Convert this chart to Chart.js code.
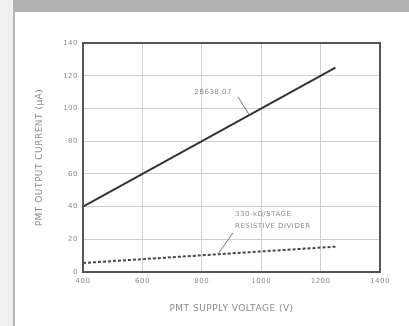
<!DOCTYPE html>
<html>
<head>
<meta charset="utf-8">
<script src="https://cdn.jsdelivr.net/npm/chart.js@4/dist/chart.umd.min.js"></script>
<style>
  html, body { margin: 0; padding: 0; background: #fff; }
  #wrap { width: 409px; height: 326px; }
</style>
</head>
<body>
<div id="wrap"><canvas id="chart" width="409" height="326"></canvas></div>
<script>
// supply voltage (V) at the ends of each measured line
const voltages = [400, 1250];
const pmtCurrent = [40, 125];       // solid line, uA
const dividerCurrent = [5.5, 15.5]; // dashed line, uA

const xTicks = [400, 600, 800, 1000, 1200, 1400];
const yTicks = [0, 20, 40, 60, 80, 100, 120, 140];

const pmtLabel = '2B638.07';
const dividerLabel = ['330-kΩ/STAGE', 'RESISTIVE DIVIDER'];

const textColor = '#8c8c8c';
const font = '"DejaVu Sans", Arial, sans-serif';

// page frame: grey band on top, pale strip with a rule on the left
const framePlugin = {
  id: 'frame',
  beforeDraw(chart) {
    const { ctx } = chart;
    ctx.save();
    ctx.fillStyle = '#fff';
    ctx.fillRect(0, 0, 409, 326);
    ctx.fillStyle = '#eef0f3';
    ctx.fillRect(0, 0, 13, 326);
    ctx.fillStyle = '#b3b3b3';
    ctx.fillRect(13, 0, 396, 12);
    ctx.fillStyle = '#b8b8b8';
    ctx.fillRect(13, 12, 2, 314);
    ctx.restore();
    ctx.letterSpacing = '0.5px';
  },
};

// call-out labels with leader lines, placed in data coordinates
const calloutPlugin = {
  id: 'callouts',
  afterDatasetsDraw(chart) {
    const { ctx, scales: { x, y } } = chart;
    ctx.save();
    ctx.fillStyle = textColor;
    ctx.strokeStyle = '#777';
    ctx.lineWidth = 1;
    ctx.font = `7px ${font}`;
    ctx.textBaseline = 'middle';

    ctx.textAlign = 'center';
    ctx.fillText(pmtLabel, x.getPixelForValue(838), y.getPixelForValue(110));
    ctx.beginPath();
    ctx.moveTo(x.getPixelForValue(922), y.getPixelForValue(107));
    ctx.lineTo(x.getPixelForValue(960), y.getPixelForValue(96));
    ctx.stroke();

    ctx.textAlign = 'left';
    ctx.fillText(dividerLabel[0], x.getPixelForValue(912), y.getPixelForValue(35.5));
    ctx.fillText(dividerLabel[1], x.getPixelForValue(912), y.getPixelForValue(28));
    ctx.beginPath();
    ctx.moveTo(x.getPixelForValue(905), y.getPixelForValue(24));
    ctx.lineTo(x.getPixelForValue(855), y.getPixelForValue(11));
    ctx.stroke();
    ctx.restore();
  },
};

new Chart(document.getElementById('chart').getContext('2d'), {
  type: 'line',
  data: {
    datasets: [
      {
        label: pmtLabel,
        data: voltages.map((v, i) => ({ x: v, y: pmtCurrent[i] })),
        borderColor: '#333',
        borderWidth: 2,
        pointRadius: 0,
        tension: 0,
      },
      {
        label: dividerLabel.join(' '),
        data: voltages.map((v, i) => ({ x: v, y: dividerCurrent[i] })),
        borderColor: '#444',
        borderWidth: 2,
        borderDash: [3, 2],
        pointRadius: 0,
        tension: 0,
      },
    ],
  },
  options: {
    responsive: false,
    animation: false,
    devicePixelRatio: 1,
    layout: { padding: { left: 30, top: 43, right: 29, bottom: 10 } },
    plugins: {
      legend: { display: false },
      tooltip: { enabled: false },
    },
    scales: {
      x: {
        type: 'linear',
        min: 400,
        max: 1400,
        afterBuildTicks(scale) { scale.ticks = xTicks.map(v => ({ value: v })); },
        afterFit(scale) { scale.height = 44; },
        grid: { color: '#cfcfcf', lineWidth: 1, drawTicks: false },
        border: { color: '#555', width: 2 },
        ticks: {
          color: textColor,
          font: { size: 7, family: font },
          padding: 5,
          callback: v => String(v),
        },
        title: {
          display: true,
          text: 'PMT SUPPLY VOLTAGE (V)',
          color: textColor,
          font: { size: 9, family: font },
          padding: { top: 0, bottom: 2 },
        },
      },
      y: {
        type: 'linear',
        min: 0,
        max: 140,
        afterBuildTicks(scale) { scale.ticks = yTicks.map(v => ({ value: v })); },
        afterFit(scale) { scale.width = 53; },
        grid: { color: '#cfcfcf', lineWidth: 1, drawTicks: false },
        border: { color: '#555', width: 2 },
        ticks: {
          color: textColor,
          font: { size: 7, family: font },
          padding: 5,
          callback: v => String(v),
        },
        title: {
          display: true,
          text: 'PMT OUTPUT CURRENT (μA)',
          color: textColor,
          font: { size: 9, family: font },
          padding: { top: 4, bottom: 0 },
        },
      },
    },
  },
  plugins: [framePlugin, calloutPlugin, {
    id: 'boxEdges',
    afterDraw(chart) {
      const { ctx, chartArea: a } = chart;
      ctx.save();
      ctx.strokeStyle = '#555';
      ctx.lineWidth = 2;
      ctx.strokeRect(a.left, a.top, a.right - a.left, a.bottom - a.top);
      ctx.restore();
    },
  }],
});
</script>
</body>
</html>
